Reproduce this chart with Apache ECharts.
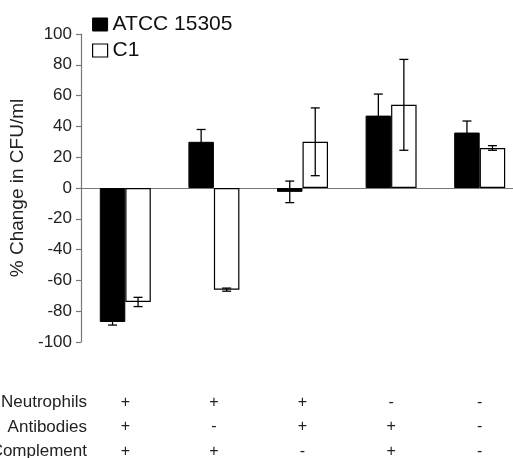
<!DOCTYPE html>
<html>
<head>
<meta charset="utf-8">
<script src="https://cdn.jsdelivr.net/npm/echarts@6/dist/echarts.min.js"></script>
<style>html,body{margin:0;padding:0;background:#fff;}#c{width:513px;height:458px;}</style>
</head>
<body>
<div id="c"></div>
<script>
const neutrophils = ['+', '+', '+', '-', '-'];
const antibodies = ['+', '-', '+', '+', '-'];
const complement = ['+', '+', '-', '+', '-'];
const categories = ['N+ A+ C+', 'N+ A- C+', 'N+ A+ C-', 'N- A+ C+', 'N- A- C-'];
const rowNames = ['Neutrophils', 'Antibodies', 'Complement'];
const seriesNames = ['ATCC 15305', 'C1'];
const atcc = [-87, 30, -2.5, 47, 36];
const atccErr = [2, 8, 7, 14, 7.5];
const c1 = [-74, -66, 30, 54, 26];
const c1Err = [3, 1, 22, 29.5, 1.5];
const yTicks = [-100, -80, -60, -40, -20, 0, 20, 40, 60, 80, 100];

const FONT = 'Liberation Sans, Arial, sans-serif';
const BAR_W = 25.5;

function errSeries(vals, errs, offset) {
  return {
    type: 'custom',
    z: 10,
    data: vals.map((v, i) => [i, v, errs[i]]),
    renderItem: function (params, api) {
      const i = api.value(0), v = api.value(1), e = api.value(2);
      const hi = api.coord([i, v + e]);
      const lo = api.coord([i, v - e]);
      const x = hi[0] + offset;
      const cap = 4.5;
      const st = { stroke: '#000', lineWidth: 1.3 };
      return {
        type: 'group',
        children: [
          { type: 'line', shape: { x1: x, y1: hi[1], x2: x, y2: lo[1] }, style: st },
          { type: 'line', shape: { x1: x - cap, y1: hi[1], x2: x + cap, y2: hi[1] }, style: st },
          { type: 'line', shape: { x1: x - cap, y1: lo[1], x2: x + cap, y2: lo[1] }, style: st }
        ]
      };
    }
  };
}

const chart = echarts.init(document.getElementById('c'));
chart.setOption({
  animation: false,
  backgroundColor: '#fff',
  textStyle: { fontFamily: FONT },
  grid: { left: 81, top: 34, height: 308, width: 443, outerBoundsMode: 'none', containLabel: false },
  legend: {
    data: [
      { name: seriesNames[0], itemStyle: { color: '#000', borderColor: '#000', borderWidth: 1 } },
      { name: seriesNames[1], itemStyle: { color: '#fff', borderColor: '#000', borderWidth: 1.2 } }
    ],
    orient: 'vertical',
    left: 87,
    top: 9,
    itemWidth: 15,
    itemHeight: 13,
    itemGap: 5,
    icon: 'rect',
    textStyle: { fontSize: 21, color: '#111', fontFamily: FONT }
  },
  xAxis: [
    {
      type: 'category',
      data: categories,
      axisLine: { show: false, onZero: false },
      axisTick: { show: false },
      axisLabel: {
        margin: 48,
        interval: 0,
        color: '#222',
        fontSize: 16,
        lineHeight: 24.5,
        formatter: function (val, idx) {
          return neutrophils[idx] + '\n' + antibodies[idx] + '\n' + complement[idx];
        }
      }
    },
    {
      type: 'category',
      data: categories,
      position: 'bottom',
      axisLine: { show: true, onZero: true, lineStyle: { color: '#777', width: 1.2 } },
      axisTick: { show: false },
      axisLabel: { show: false }
    }
  ],
  yAxis: {
    type: 'value',
    min: yTicks[0],
    max: yTicks[yTicks.length - 1],
    interval: 20,
    name: '% Change in CFU/ml',
    nameLocation: 'middle',
    nameGap: 48,
    nameTextStyle: { fontSize: 19, color: '#222', fontFamily: FONT },
    axisLine: { show: true, lineStyle: { color: '#777', width: 1.2 } },
    axisTick: { show: true, length: 5, lineStyle: { color: '#777', width: 1.2 } },
    axisLabel: { fontSize: 17, color: '#222', margin: 9 },
    splitLine: { show: false }
  },
  series: [
    {
      name: seriesNames[0],
      type: 'bar',
      data: atcc,
      barWidth: BAR_W,
      barGap: '0%',
      itemStyle: { color: '#000', borderColor: '#000', borderWidth: 1 }
    },
    {
      name: seriesNames[1],
      type: 'bar',
      data: c1,
      barWidth: BAR_W,
      barGap: '0%',
      itemStyle: { color: '#fff', borderColor: '#000', borderWidth: 1.2 }
    },
    errSeries(atcc, atccErr, -BAR_W / 2),
    errSeries(c1, c1Err, BAR_W / 2)
  ],
  graphic: rowNames.map((n, k) => ({
    type: 'text',
    right: 513 - 87,
    top: 394 + k * 24.5,
    style: { text: n, font: '17px ' + FONT, fill: '#222', textAlign: 'right' }
  }))
});
</script>
</body>
</html>
